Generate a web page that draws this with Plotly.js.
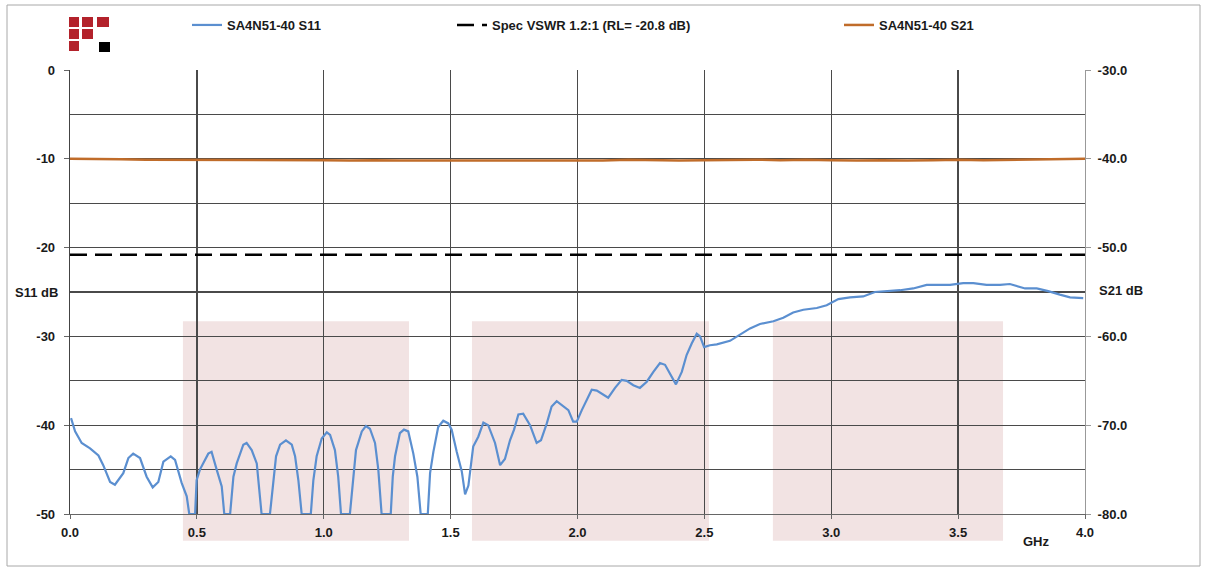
<!DOCTYPE html>
<html><head><meta charset="utf-8">
<script src="https://cdn.plot.ly/plotly-3.0.1.min.js"></script>
<style>html,body{margin:0;padding:0;background:#fff;} #chart{width:1206px;height:572px;}</style>
</head><body><div id="chart"></div>
<script>
// ---- data ----
const s11Freq = [0.004,0.020,0.046,0.079,0.112,0.131,0.158,0.177,0.210,0.230,0.249,0.276,0.302,0.326,0.348,0.368,0.397,0.414,0.440,0.460,0.470,0.493,0.499,0.512,0.545,0.558,0.578,0.598,0.608,0.631,0.644,0.657,0.683,0.696,0.716,0.736,0.755,0.788,0.812,0.828,0.851,0.874,0.887,0.900,0.913,0.949,0.959,0.972,0.992,1.012,1.025,1.044,1.057,1.068,1.103,1.116,1.127,1.150,1.166,1.182,1.202,1.215,1.228,1.264,1.272,1.281,1.300,1.316,1.333,1.353,1.369,1.382,1.410,1.419,1.432,1.451,1.471,1.491,1.504,1.524,1.544,1.557,1.570,1.589,1.609,1.629,1.648,1.675,1.695,1.714,1.734,1.750,1.767,1.786,1.813,1.839,1.856,1.879,1.898,1.918,1.938,1.964,1.983,1.997,2.017,2.036,2.056,2.076,2.102,2.121,2.148,2.174,2.194,2.220,2.246,2.273,2.299,2.325,2.345,2.365,2.388,2.411,2.430,2.450,2.470,2.483,2.499,2.522,2.549,2.601,2.640,2.680,2.719,2.772,2.811,2.850,2.890,2.943,2.982,3.028,3.074,3.126,3.172,3.219,3.271,3.323,3.376,3.429,3.468,3.520,3.560,3.612,3.665,3.704,3.764,3.810,3.855,3.901,3.941,3.993];
const s11Db = [-39.2,-40.7,-42.0,-42.6,-43.4,-44.5,-46.4,-46.7,-45.4,-43.7,-43.2,-43.7,-45.8,-47.0,-46.4,-44.1,-43.5,-43.9,-46.5,-48.0,-50,-50,-46.2,-45.0,-43.2,-43.0,-45.0,-46.9,-50,-50,-45.8,-44.3,-42.2,-42.0,-42.8,-44.3,-50,-50,-43.5,-42.2,-41.7,-42.2,-43.5,-46.2,-50,-50,-46.2,-43.5,-41.5,-40.8,-41.1,-42.8,-45.8,-50,-50,-45.8,-42.8,-40.7,-40.1,-40.4,-42.0,-45.0,-50,-50,-45.8,-43.5,-40.9,-40.5,-40.7,-43.2,-45.8,-50,-50,-45.4,-43.0,-40.2,-39.5,-39.8,-40.5,-43.0,-45.2,-47.8,-46.8,-42.4,-41.3,-39.7,-40.0,-42.0,-44.5,-43.8,-41.7,-40.5,-38.8,-38.7,-40.0,-42.0,-41.7,-39.8,-37.9,-37.3,-37.7,-38.3,-39.6,-39.6,-38.3,-37.2,-36.0,-36.1,-36.6,-36.9,-35.8,-34.9,-35.0,-35.5,-35.8,-35.1,-34.0,-33.0,-33.2,-34.3,-35.4,-34.0,-32.1,-30.8,-29.7,-30.0,-31.2,-31.0,-30.9,-30.5,-29.8,-29.1,-28.6,-28.3,-27.9,-27.3,-27.0,-26.8,-26.5,-25.8,-25.6,-25.5,-25.0,-24.9,-24.8,-24.6,-24.2,-24.2,-24.2,-24.0,-24.0,-24.2,-24.2,-24.1,-24.6,-24.6,-24.9,-25.3,-25.6,-25.7];
const s21Freq = [0.0,0.1,0.2,0.3,0.4,0.5,0.6,0.7,0.8,0.9,1.0,1.1,1.2,1.3,1.4,1.5,1.6,1.7,1.8,1.9,2.0,2.1,2.2,2.3,2.4,2.5,2.6,2.7,2.8,2.9,3.0,3.1,3.2,3.3,3.4,3.5,3.6,3.7,3.8,3.9,4.0];
const s21Db = [-40.0,-40.0,-40.05,-40.1,-40.1,-40.15,-40.1,-40.15,-40.1,-40.1,-40.15,-40.2,-40.15,-40.2,-40.2,-40.15,-40.2,-40.2,-40.15,-40.2,-40.15,-40.2,-40.1,-40.15,-40.2,-40.15,-40.1,-40.1,-40.15,-40.1,-40.15,-40.2,-40.15,-40.2,-40.15,-40.1,-40.15,-40.1,-40.05,-40.0,-40.0];
const specFreq = [0.0, 4.0];
const specDb = [-20.8, -20.8];
const xTickVals = [0.0,0.5,1.0,1.5,2.0,2.5,3.0,3.5,4.0];
const xTickText = ['0.0','0.5','1.0','1.5','2.0','2.5','3.0','3.5','4.0'];
const y1TickVals = [0,-10,-20,-30,-40,-50];
const y1TickText = ['0','-10','-20','-30','-40','-50'];
const y2TickVals = [-30,-40,-50,-60,-70,-80];
const y2TickText = ['-30.0','-40.0','-50.0','-60.0','-70.0','-80.0'];
const bandStart = [0.445, 1.584, 2.770];
const bandEnd = [1.336, 2.518, 3.677];
const bandTopDb = -28.3, bandBottomDb = -53.0;

// ---- layout geometry ----
const W = 1206, H = 572;
const M = {l: 70, r: 121, t: 70, b: 58, autoexpand: false};
const PW = W - M.l - M.r, PH = H - M.t - M.b;
const Y1 = [-50, 0];
const px2x = p => (p - M.l) / PW;
const py2y = p => (H - M.b - p) / PH;
const db2paper = v => (v - Y1[0]) / (Y1[1] - Y1[0]);

const FONT = {family: 'Liberation Sans, Arial, sans-serif', size: 13, color: '#1a1a1a', weight: 'bold'};
const GRID = '#4a4a4a';

const shapes = [];
for (let i = 0; i < bandStart.length; i++) {
  shapes.push({type: 'rect', layer: 'below', xref: 'x', yref: 'paper',
    x0: bandStart[i], x1: bandEnd[i], y0: db2paper(bandBottomDb), y1: db2paper(bandTopDb),
    fillcolor: '#f2e3e3', line: {width: 0}});
}
// logo
const red = '#b3222b';
const logo = [[69,79,17,27],[82,93,17,27],[97,109,17,27],[69,79,29,39],[82,93,29,39],[69,79,41,51]];
logo.forEach(r => shapes.push({type:'rect', xref:'paper', yref:'paper', x0:px2x(r[0]), x1:px2x(r[1]), y0:py2y(r[3]), y1:py2y(r[2]), fillcolor: red, line:{width:0}}));
shapes.push({type:'rect', xref:'paper', yref:'paper', x0:px2x(99), x1:px2x(110), y0:py2y(52), y1:py2y(42), fillcolor:'#000', line:{width:0}});
// outer frame
shapes.push({type:'rect', xref:'paper', yref:'paper', x0:px2x(7), x1:px2x(1200), y0:py2y(566), y1:py2y(5), line:{color:'#a8a8a8', width:1}, fillcolor:'rgba(0,0,0,0)'});

const traces = [
  {x: s11Freq, y: s11Db, type: 'scatter', mode: 'lines', name: 'SA4N51-40 S11',
   line: {color: '#5b8fd0', width: 2.2}, legend: 'legend', yaxis: 'y'},
  {x: specFreq, y: specDb, type: 'scatter', mode: 'lines', name: 'Spec VSWR 1.2:1 (RL= -20.8 dB)',
   line: {color: '#000', width: 2.5, dash: '17px,8px'}, legend: 'legend2', yaxis: 'y'},
  {x: s21Freq, y: s21Db, type: 'scatter', mode: 'lines', name: 'SA4N51-40 S21',
   line: {color: '#c06c2a', width: 2.5}, legend: 'legend3', yaxis: 'y2'}
];

const legBase = {orientation: 'h', xanchor: 'left', yanchor: 'middle', y: py2y(25),
  bgcolor: 'rgba(0,0,0,0)', font: FONT};

const layout = {
  width: W, height: H, margin: M, paper_bgcolor: '#fff', plot_bgcolor: '#fff',
  font: FONT, showlegend: true,
  legend: Object.assign({}, legBase, {x: px2x(187)}),
  legend2: Object.assign({}, legBase, {x: px2x(452)}),
  legend3: Object.assign({}, legBase, {x: px2x(839)}),
  xaxis: {range: [0, 4], tickmode: 'array', tickvals: xTickVals, ticktext: xTickText,
    showgrid: true, gridcolor: GRID, gridwidth: 1.3, zeroline: false,
    showline: true, linecolor: '#666', linewidth: 1.2, mirror: false,
    ticks: 'outside', ticklen: 4, tickcolor: '#666', tickfont: FONT, ticklabelstandoff: 2},
  yaxis: {range: Y1, tickmode: 'array', tickvals: y1TickVals, ticktext: y1TickText,
    showgrid: true, gridcolor: GRID, gridwidth: 1.3, zeroline: false,
    minor: {tickmode: 'linear', tick0: 0, dtick: 5, showgrid: true, gridcolor: GRID, gridwidth: 1.3, ticks: ''},
    showline: true, linecolor: '#444', linewidth: 1.3,
    ticks: 'outside', ticklen: 5, tickcolor: '#666', tickfont: FONT, ticklabelstandoff: 6},
  yaxis2: {range: [-80, -30], overlaying: 'y', side: 'right', tickmode: 'array',
    tickvals: y2TickVals, ticktext: y2TickText, showgrid: false, zeroline: false,
    showline: true, linecolor: '#999', linewidth: 1,
    ticks: 'outside', ticklen: 5, tickcolor: '#999', tickfont: FONT, ticklabelstandoff: 4},
  shapes: shapes,
  annotations: [
    {text: 'S11 dB', xref: 'paper', yref: 'y', x: px2x(36), y: -25.0, xanchor: 'center', yanchor: 'middle', showarrow: false, font: FONT},
    {text: 'S21 dB', xref: 'paper', yref: 'y', x: px2x(1097), y: -24.8, xanchor: 'left', yanchor: 'middle', showarrow: false, font: FONT},
    {text: 'GHz', xref: 'x', yref: 'paper', x: 3.81, y: py2y(541), xanchor: 'center', yanchor: 'middle', showarrow: false, font: FONT}
  ]
};

Plotly.newPlot('chart', traces, layout, {displayModeBar: false, staticPlot: true});
</script></body></html>
